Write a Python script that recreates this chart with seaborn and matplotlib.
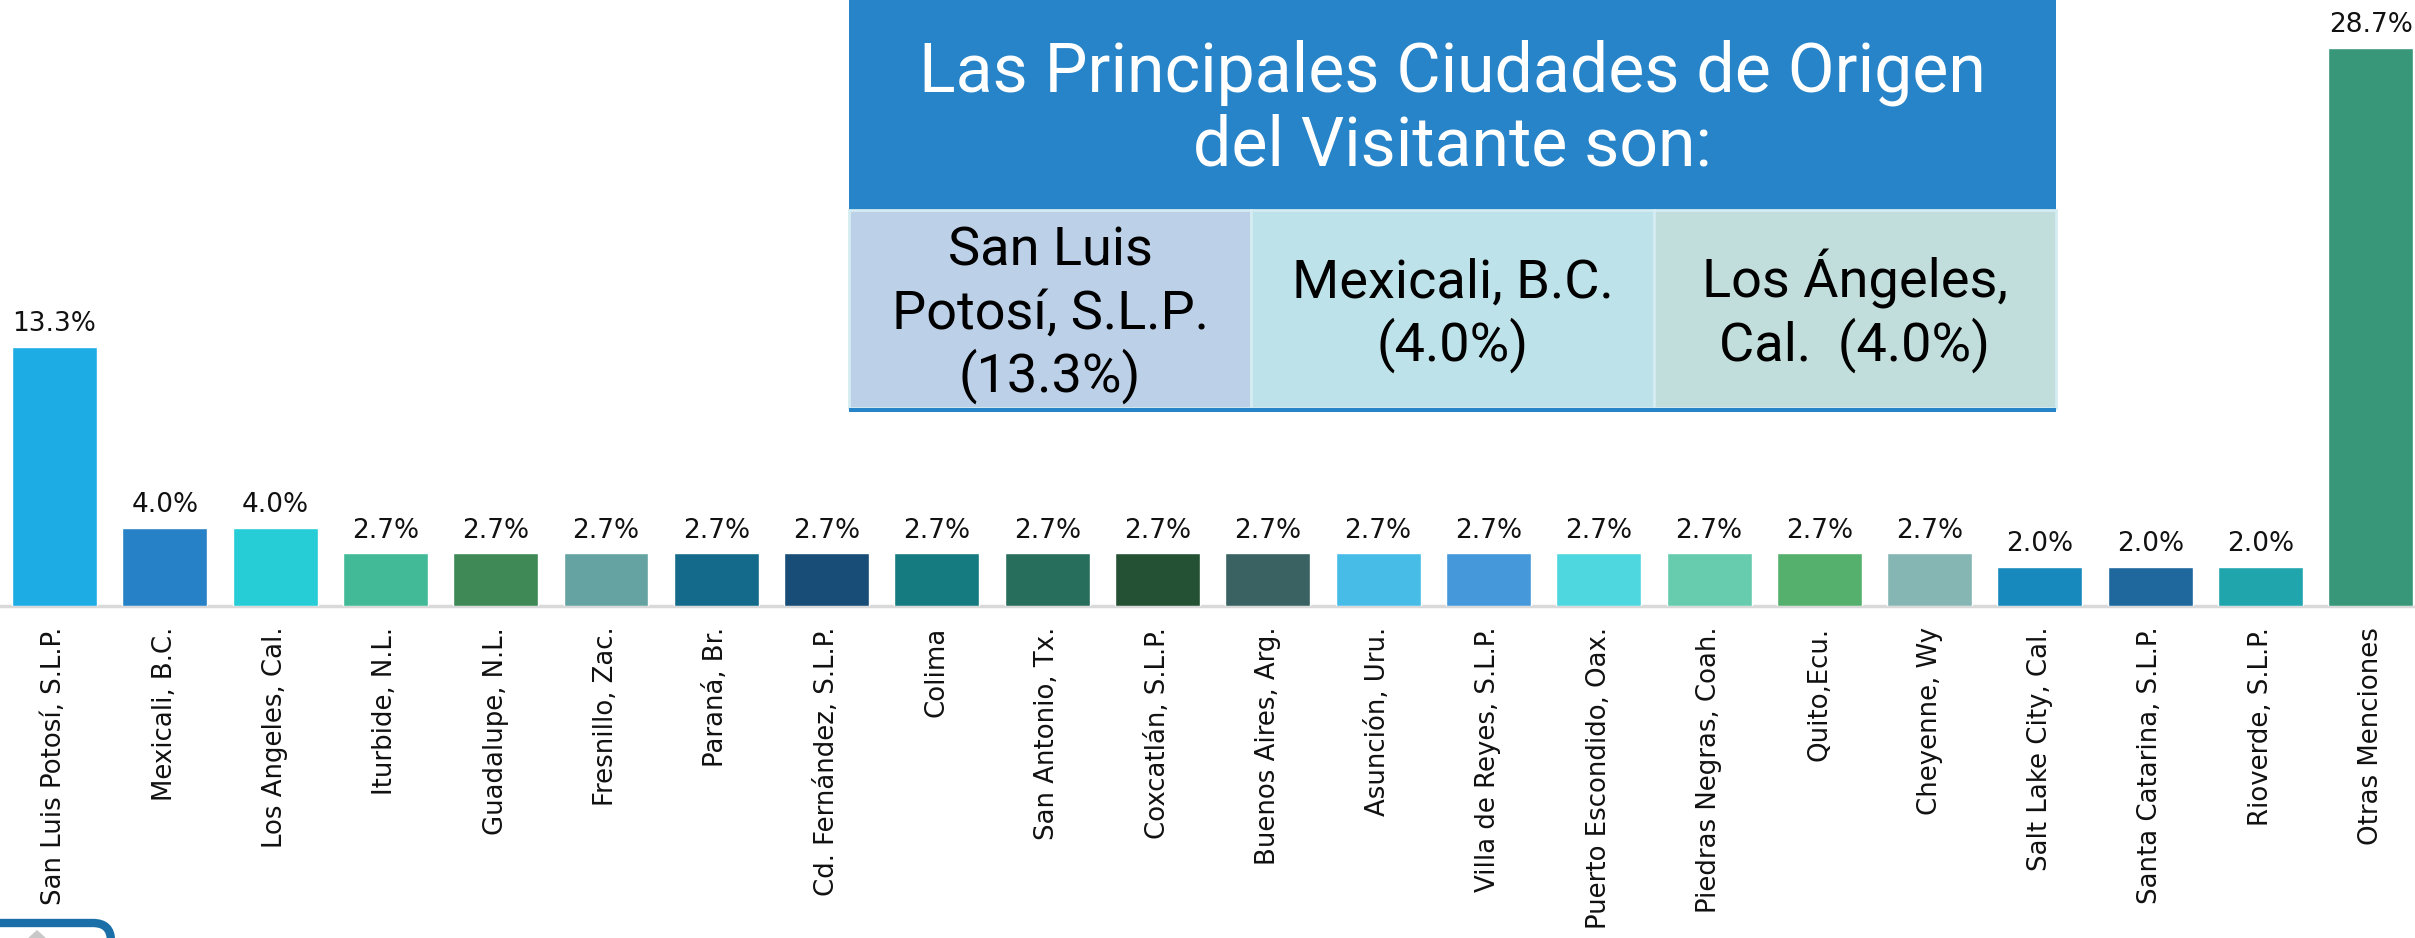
import numpy as np
import pandas as pd
import seaborn as sns
import matplotlib.pyplot as plt
from matplotlib.patches import Rectangle, FancyBboxPatch, Polygon

ciudades = ['San Luis Potosí, S.L.P.', 'Mexicali, B.C.', 'Los Angeles, Cal.', 'Iturbide, N.L.',
            'Guadalupe, N.L.', 'Fresnillo, Zac.', 'Paraná, Br.', 'Cd. Fernández, S.L.P.', 'Colima',
            'San Antonio, Tx.', 'Coxcatlán, S.L.P.', 'Buenos Aires, Arg.', 'Asunción, Uru.',
            'Villa de Reyes, S.L.P.', 'Puerto Escondido, Oax.', 'Piedras Negras, Coah.', 'Quito,Ecu.',
            'Cheyenne, Wy', 'Salt Lake City, Cal.', 'Santa Catarina, S.L.P.', 'Rioverde, S.L.P.',
            'Otras Menciones']
porcentajes = [13.3, 4.0, 4.0, 2.7, 2.7, 2.7, 2.7, 2.7, 2.7, 2.7, 2.7, 2.7, 2.7, 2.7, 2.7,
               2.7, 2.7, 2.7, 2.0, 2.0, 2.0, 28.7]
colores = ['#1EACE4', '#2781C6', '#27CDD6', '#43BA97', '#3F8957', '#64A3A1', '#136A8A',
           '#174D77', '#167B80', '#276E5C', '#245134', '#3A6262', '#47BCE7', '#4599DA',
           '#4FD7E0', '#67CBAD', '#55B06D', '#85B6B3', '#1889BD', '#1F689E', '#20A5AD',
           '#389679']

titulo = ['Las Principales Ciudades de Origen', 'del Visitante son:']
destacadas = [['San Luis', 'Potosí, S.L.P.', '(13.3%)'],
              ['Mexicali, B.C.', '(4.0%)'],
              ['Los Ángeles,', 'Cal.  (4.0%)']]
fondos = ['#BCD0E8', '#BDE2EA', '#C2DEDC']

df = pd.DataFrame({'ciudad': ciudades, 'pct': porcentajes})

sns.set_style('white')
plt.rcParams['font.family'] = ['DejaVu Sans']

W, H = 2415, 938
fig = plt.figure(figsize=(W / 100, H / 100), dpi=100)
ax = fig.add_axes([0, (H - 606) / H, 1, 606 / H])

sns.barplot(data=df, x='ciudad', y='pct', hue='ciudad', palette=colores, legend=False,
            width=0.77, saturation=1, ax=ax)

ax.set_xlim(-0.494, 21.40)
ax.set_ylim(0, 606 / 19.45)
ax.axhline(0, color='#D9D9D9', lw=2.5, zorder=0.5, clip_on=False)
for s in ax.spines.values():
    s.set_visible(False)
ax.set_yticks([])
ax.set_xlabel('')
ax.set_ylabel('')
ax.tick_params(axis='x', labelrotation=90, labelsize=18.7, pad=15, length=0, labelcolor='#111111')

for p, v in zip(ax.patches, porcentajes):
    ax.annotate(f'{v:.1f}%', (p.get_x() + p.get_width() / 2, p.get_height()),
                xytext=(0, 11.5), textcoords='offset points', ha='center', va='baseline',
                fontsize=19, color='#111111')

# recuadro con las ciudades principales
ov = fig.add_axes([0, 0, 1, 1], zorder=5)
ov.set_xlim(0, W)
ov.set_ylim(H, 0)
ov.axis('off')
ov.patch.set_alpha(0)

x0, x1 = 849, 2056
ov.add_patch(Rectangle((x0, 0), x1 - x0, 210, color='#2784C8', lw=0))
cx = (x0 + x1) / 2
ov.text(cx, 91.7, titulo[0], color='white', fontsize=49, family='Roboto', ha='center', va='baseline')
ov.text(cx, 165.7, titulo[1], color='white', fontsize=49, family='Roboto', ha='center', va='baseline')

cw = (x1 - x0) / 3
for i, (lineas, fc) in enumerate(zip(destacadas, fondos)):
    left = x0 + i * cw
    ov.add_patch(Rectangle((left, 210), cw, 198, facecolor=fc, edgecolor='#D4ECF2', lw=2))
    n = len(lineas)
    for j, t in enumerate(lineas):
        yb = 329 + (j - (n - 1) / 2) * 63
        ov.text(left + cw / 2, yb, t, color='black', fontsize=39, family='Roboto',
                ha='center', va='baseline')
ov.add_patch(Rectangle((x0, 408), x1 - x0, 4, color='#2784C8', lw=0))

# detalle en la esquina inferior
ov.add_patch(FancyBboxPatch((-30, 923), 141, 60, boxstyle='round,pad=0,rounding_size=18',
                            fill=False, edgecolor='#1B6FA8', lw=6, clip_on=False))
ov.add_patch(Polygon([(27, 939), (37, 930), (47, 939)], color='#C8C8C8', lw=0))

fig.savefig('out.png', dpi=100)
